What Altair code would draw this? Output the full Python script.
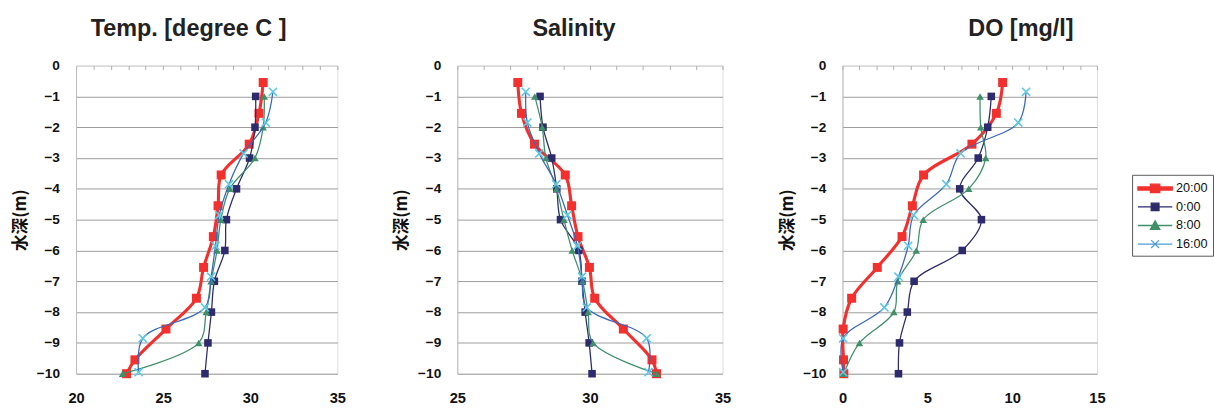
import altair as alt
import pandas as pd

# ---------------- data ----------------
series_names = ["20:00", "0:00", "8:00", "16:00"]

depth_2000 = [-0.55, -1.55, -2.55, -3.55, -4.55, -5.55, -6.55, -7.55, -8.55, -9.55, -10.0]
depth_0000 = [-1, -2, -3, -4, -5, -6, -7, -8, -9, -10]
depth_0800 = [-1, -2, -3, -4, -5, -6, -7, -8, -9, -10]
depth_1600 = [-0.85, -1.85, -2.85, -3.85, -4.85, -5.85, -6.85, -7.85, -8.85, -9.95]

temp_2000 = [30.74, 30.5, 29.94, 28.33, 28.15, 27.88, 27.32, 26.91, 25.16, 23.38, 22.9]
temp_0000 = [30.31, 30.27, 29.96, 29.21, 28.63, 28.54, 27.94, 27.77, 27.57, 27.4]
temp_0800 = [30.8, 30.74, 30.27, 28.82, 28.31, 28.09, 27.75, 27.47, 27.04, 22.67]
temp_1600 = [31.3, 30.89, 29.62, 28.78, 28.22, 28.0, 27.75, 27.4, 23.83, 23.59]

sal_2000 = [27.28, 27.42, 27.91, 29.07, 29.31, 29.55, 29.98, 30.18, 31.26, 32.34, 32.51]
sal_0000 = [28.12, 28.23, 28.56, 28.75, 28.89, 29.58, 29.7, 29.82, 29.97, 30.08]
sal_0800 = [27.92, 28.2, 28.34, 28.74, 29.02, 29.33, 29.72, 29.93, 30.12, 32.52]
sal_1600 = [27.58, 27.64, 28.09, 28.73, 29.15, 29.53, 29.7, 29.88, 32.14, 32.21]

do_2000 = [9.44, 9.07, 7.63, 4.78, 4.12, 3.51, 2.05, 0.54, 0.04, 0.06, 0.08]
do_0000 = [8.77, 8.56, 8.0, 6.91, 8.19, 7.06, 4.22, 3.82, 3.36, 3.3]
do_0800 = [8.11, 8.15, 8.44, 7.44, 4.76, 4.35, 3.26, 3.03, 1.0, 0.08]
do_1600 = [10.82, 10.36, 6.96, 6.12, 4.2, 3.87, 3.3, 2.47, 0.04, 0.04]

depths = {"20:00": depth_2000, "0:00": depth_0000, "8:00": depth_0800, "16:00": depth_1600}
panels_values = {
    "temp": {"20:00": temp_2000, "0:00": temp_0000, "8:00": temp_0800, "16:00": temp_1600},
    "sal": {"20:00": sal_2000, "0:00": sal_0000, "8:00": sal_0800, "16:00": sal_1600},
    "do": {"20:00": do_2000, "0:00": do_0000, "8:00": do_0800, "16:00": do_1600},
}

# ---------------- styles ----------------
line_colors = {"20:00": "#f2302e", "0:00": "#2e2b6c", "8:00": "#3f8f69", "16:00": "#3a68bb"}
marker_colors = {"20:00": "#f2302e", "0:00": "#2e2b6c", "8:00": "#3f8f69", "16:00": "#5cc8e6"}
line_widths = {"20:00": 3.2, "0:00": 1.3, "8:00": 1.3, "16:00": 1.3}
X_PATH = "M-1,-1L1,1M-1,1L1,-1"

LABEL_FONT = "Liberation Sans"


def make_df(key):
    rows = []
    for s in series_names:
        for i, (d, v) in enumerate(zip(depths[s], panels_values[key][s])):
            rows.append({"series": s, "depth": d, "value": v, "idx": i})
    return pd.DataFrame(rows)


def panel(key, xmin, xmax, xlabels, title, title_dx, width, legend=False):
    df = make_df(key)
    xscale = alt.Scale(domain=[xmin, xmax], nice=False, zero=False)
    yscale = alt.Scale(domain=[-10, 0], nice=False, zero=False)

    bottom_axis = alt.Axis(
        orient="bottom", values=xlabels, domain=False, ticks=False, grid=False,
        labelPadding=18, labelFont=LABEL_FONT, labelFontSize=15, labelFontWeight="bold",
        labelColor="#111", title=None, labelFlush=False,
    )
    top_axis = alt.Axis(
        orient="top", values=list(range(xmin, xmax + 1)), domain=False, ticks=True,
        tickSize=4, tickColor="#aaaaaa", offset=-4, labels=False, grid=False, title=None,
    )
    left_axis = alt.Axis(
        orient="left", values=list(range(-10, 1)), grid=True,
        gridColor={"condition": {"test": "datum.value === 0", "value": "#cfcfcf"},
                   "value": "#9a9a9a"},
        gridWidth=1, domain=True, domainColor="#bbbbbb", ticks=False,
        labelPadding=17, labelFont=LABEL_FONT, labelFontSize=14, labelFontWeight="bold",
        labelColor="#111", title="水深(m)", titleFont="Noto Sans CJK JP", titleFontSize=17,
        titleFontWeight="bold", titleColor="#111", titlePadding=7,
    )

    layers = []
    for k, s in enumerate(series_names):
        base = alt.Chart(df).transform_filter(alt.datum.series == s)
        xa = bottom_axis if k == 0 else None
        line = base.mark_line(
            color=line_colors[s], strokeWidth=line_widths[s], interpolate="catmull-rom"
        ).encode(
            x=alt.X("value:Q", scale=xscale, axis=xa),
            y=alt.Y("depth:Q", scale=yscale, axis=left_axis),
            order=alt.Order("idx:Q"),
        )
        layers.append(line)
        if s == "16:00":
            pts = base.mark_point(shape=X_PATH, filled=False, stroke=marker_colors[s],
                                  strokeWidth=1.6, size=70, opacity=1)
        elif s == "8:00":
            pts = base.mark_point(shape="triangle-up", filled=True, color=marker_colors[s],
                                  size=60, opacity=1)
        elif s == "20:00":
            pts = base.mark_point(shape="square", filled=True, color=marker_colors[s],
                                  size=85, opacity=1)
        else:
            pts = base.mark_point(shape="square", filled=True, color=marker_colors[s],
                                  size=60, opacity=1)
        pts = pts.encode(
            x=alt.X("value:Q", scale=xscale, axis=top_axis if k == 0 else None),
            y=alt.Y("depth:Q", scale=yscale, axis=left_axis),
        )
        layers.append(pts)

    if legend:
        legend_paths = [
            "M-1,-0.2H3.4V0.2H-1Z M0.6,-0.55H1.8V0.55H0.6Z",
            "M-1,0H3.4 M0.7,-0.48H1.7V0.48H0.7Z",
            "M-1,0H3.4 M1.2,-0.6L1.8,0.48H0.6Z",
            "M-1,0H3.4 M0.7,-0.5L1.7,0.5 M0.7,0.5L1.7,-0.5",
        ]
        leg = alt.Legend(
            orient="none", legendX=297, legendY=112, title=None,
            labelFont=LABEL_FONT, labelFontSize=13, labelColor="#111",
            symbolSize=256, symbolStrokeWidth=1.3, strokeColor="#555555",
            padding=5, rowPadding=3, labelOffset=22, fillColor="white",
        )
        leg_layer = alt.Chart(df).transform_filter("false").mark_point(
            filled=True, size=256, opacity=1, strokeWidth=1.3
        ).encode(
            x=alt.X("value:Q", scale=xscale, axis=None),
            y=alt.Y("depth:Q", scale=yscale, axis=left_axis),
            color=alt.Color("series:N", scale=alt.Scale(domain=series_names,
                            range=[line_colors[s] for s in series_names]), legend=leg),
            stroke=alt.Stroke("series:N", scale=alt.Scale(domain=series_names,
                              range=["#f2302e", "#2e2b6c", "#3f8f69", "#4f9fd6"]), legend=leg),
            shape=alt.Shape("series:N", scale=alt.Scale(domain=series_names, range=legend_paths),
                            legend=leg),
        )
        layers.append(leg_layer)

    return alt.layer(*layers).properties(
        width=width, height=316,
        title=alt.TitleParams(
            text=title, anchor="start", frame="group", dx=title_dx, fontSize=24,
            font=LABEL_FONT, fontWeight="bold", color="#222", offset=18,
        ),
    )


p1 = panel("temp", 20, 35, [20, 25, 30, 35], "Temp. [degree C ]", 15, 268)
p2 = panel("sal", 25, 35, [25, 30, 35], "Salinity", 77, 272)
p3 = panel("do", 0, 15, [0, 5, 10, 15], "DO [mg/l]", 129, 261, legend=True)

chart = alt.hconcat(
    alt.hconcat(p1, p2, spacing=47), p3, spacing=47
).resolve_scale(color="independent", stroke="independent", shape="independent").properties(
    padding={"left": 11, "top": 12, "right": 0, "bottom": 0}
).configure_view(strokeWidth=0).configure(background="white")

chart.save("out.html", embed_options={"renderer": "svg", "actions": False})
